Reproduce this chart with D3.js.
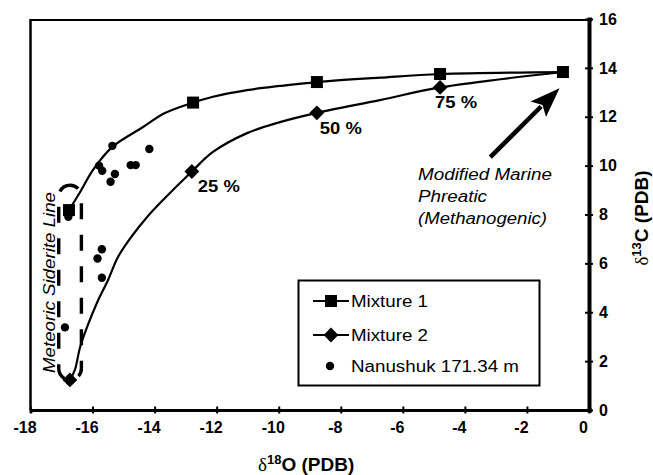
<!DOCTYPE html>
<html>
<head>
<meta charset="utf-8">
<script src="https://cdn.jsdelivr.net/npm/d3@7"></script>
<style>
  body { margin: 0; background: #fff; }
  text { font-family: Arial, "Liberation Sans", sans-serif; fill: #000; }
  .tick text { font-weight: bold; font-size: 16px; }
</style>
</head>
<body>
<div id="chart"></div>
<script>
// Axis ticks
const xTicks = [-18, -16, -14, -12, -10, -8, -6, -4, -2, 0];
const yTicks = [0, 2, 4, 6, 8, 10, 12, 14, 16];

// Mixture 1 (squares) and its mixing curve
const mix1X = [-16.76, -12.76, -8.77, -4.80, -0.84];
const mix1Y = [8.18, 12.58, 13.42, 13.75, 13.83];
const mix1CurveX = [-16.76, -16.40, -15.99, -15.37, -14.37, -13.67, -12.76, -12.12, -11.02, -9.96, -8.77, -6.74, -4.80, -0.84];
const mix1CurveY = [8.18, 8.92, 9.82, 10.76, 11.58, 12.15, 12.58, 12.82, 13.09, 13.26, 13.42, 13.60, 13.75, 13.83];

// Mixture 2 (diamonds) and its mixing curve
const mix2X = [-16.73, -12.80, -8.77, -4.80];
const mix2Y = [1.23, 9.76, 12.16, 13.20];
const mix2Labels = ["", "25 %", "50 %", "75 %"];
const mix2CurveX = [-16.73, -16.57, -16.40, -16.15, -15.86, -15.50, -15.18, -14.73, -14.24, -13.73, -12.80, -12.12, -11.02, -9.96, -8.77, -6.74, -4.80, -0.84];
const mix2CurveY = [1.23, 1.64, 2.58, 3.48, 4.38, 5.32, 6.26, 7.12, 7.90, 8.59, 9.76, 10.56, 11.33, 11.78, 12.16, 12.68, 13.20, 13.83];

// Nanushuk 171.34 m samples
const nanX = [-15.36, -14.17, -15.79, -15.69, -15.28, -15.42, -14.77, -14.61, -16.78, -15.70, -15.84, -15.70, -16.89];
const nanY = [10.81, 10.68, 10.00, 9.79, 9.66, 9.34, 10.02, 10.02, 7.91, 6.58, 6.20, 5.41, 3.38];

// Meteoric siderite line envelope and arrow
const siderX = [-17.09, -16.36];
const siderY = [1.23, 9.20];
const arrowX = [-3.18, -0.95];
const arrowY = [10.35, 13.17];

const width = 653;
const height = 475;

const svg = d3.select("#chart")
  .append("svg")
  .attr("width", width)
  .attr("height", height);

const x = d3.scaleLinear().domain([-18, 0]).range([30.5, 589]);
const y = d3.scaleLinear().domain([0, 16]).range([410, 19]);

// Frame (top and left)
svg.append("line").attr("x1", x(-18)).attr("x2", x(0)).attr("y1", 20).attr("y2", 20)
  .attr("stroke", "#000").attr("stroke-width", 2);
svg.append("line").attr("x1", x(-18)).attr("x2", x(-18)).attr("y1", 19).attr("y2", y(0))
  .attr("stroke", "#000").attr("stroke-width", 2.5);

// Bottom axis
const gx = svg.append("g")
  .attr("transform", `translate(0,${y(0)})`)
  .call(d3.axisBottom(x).tickValues(xTicks).tickSizeOuter(0).tickSize(3).tickFormat(d3.format("d")));
gx.attr("font-size", null).attr("font-family", null);
gx.select(".domain").attr("stroke-width", 3);
gx.selectAll(".tick line").attr("y1", -3.5).attr("y2", 3.5).attr("stroke-width", 2);
gx.selectAll(".tick text")
  .attr("y", 12).attr("dy", "0.71em").attr("dx", -6)
  .attr("font-weight", "bold")
  .text(d => String(d));

// Right axis
const gy = svg.append("g")
  .attr("transform", `translate(${x(0)},0)`)
  .call(d3.axisRight(y).tickValues(yTicks).tickSizeOuter(0).tickSize(3));
gy.attr("font-size", null).attr("font-family", null);
gy.select(".domain").attr("stroke-width", 4);
gy.selectAll(".tick line").attr("x1", -4).attr("x2", 4).attr("stroke-width", 2);
gy.selectAll(".tick text")
  .attr("x", 10)
  .attr("font-weight", "bold");

// Meteoric siderite dashed envelope
const envW = x(siderX[1]) - x(siderX[0]);
svg.append("rect")
  .attr("x", x(siderX[0]))
  .attr("y", y(siderY[1]))
  .attr("width", envW)
  .attr("height", y(siderY[0]) - y(siderY[1]))
  .attr("rx", envW / 2).attr("ry", envW / 2)
  .attr("fill", "none")
  .attr("stroke", "#000")
  .attr("stroke-width", 3.4)
  .attr("stroke-dasharray", "16,15.5")
  .attr("stroke-dashoffset", 7);

svg.append("text")
  .attr("transform", `translate(55,${(192 + 373) / 2}) rotate(-90)`)
  .attr("text-anchor", "middle")
  .attr("textLength", 181).attr("lengthAdjust", "spacingAndGlyphs")
  .style("font-size", "16px").style("font-style", "italic")
  .text("Meteoric Siderite Line");

// Mixing curves
const line = d3.line().x(d => x(d[0])).y(d => y(d[1])).curve(d3.curveCatmullRom.alpha(0.5));
svg.append("path")
  .datum(d3.zip(mix1CurveX, mix1CurveY))
  .attr("d", line).attr("fill", "none").attr("stroke", "#000").attr("stroke-width", 2.2);
svg.append("path")
  .datum(d3.zip(mix2CurveX, mix2CurveY))
  .attr("d", line).attr("fill", "none").attr("stroke", "#000").attr("stroke-width", 2.2);

// Nanushuk samples
svg.selectAll(".dot")
  .data(d3.zip(nanX, nanY))
  .enter().append("circle")
  .attr("class", "dot")
  .attr("cx", d => x(d[0])).attr("cy", d => y(d[1]))
  .attr("r", 4.2).attr("fill", "#000");

// Markers
const sq = 12;
svg.selectAll(".sq")
  .data(d3.zip(mix1X, mix1Y))
  .enter().append("rect")
  .attr("class", "sq")
  .attr("x", d => x(d[0]) - sq / 2).attr("y", d => y(d[1]) - sq / 2)
  .attr("width", sq).attr("height", sq).attr("fill", "#000");

const diamond = d3.symbol().type(d3.symbolSquare).size(110);
svg.selectAll(".dm")
  .data(d3.zip(mix2X, mix2Y))
  .enter().append("path")
  .attr("class", "dm")
  .attr("d", diamond)
  .attr("transform", d => `translate(${x(d[0])},${y(d[1])}) rotate(45)`)
  .attr("fill", "#000");

// Percent labels (horizontal nudges)
const pctDx = [0, 6, 3, -5];
svg.selectAll(".pct")
  .data(d3.zip(mix2X, mix2Y, mix2Labels, pctDx).filter(d => d[2]))
  .enter().append("text")
  .attr("class", "pct")
  .attr("x", d => x(d[0]) + d[3]).attr("y", d => y(d[1]) + 21)
  .attr("textLength", 42).attr("lengthAdjust", "spacingAndGlyphs")
  .style("font-size", "17px").style("font-weight", "bold")
  .text(d => d[2]);

// Arrow
const tail = [x(arrowX[0]), y(arrowY[0])];
const tip = [x(arrowX[1]), y(arrowY[1])];
const len = Math.hypot(tip[0] - tail[0], tip[1] - tail[1]);
const ux = (tip[0] - tail[0]) / len, uy = (tip[1] - tail[1]) / len;
const headLen = 30, headW = 11;
const back = [tip[0] - ux * headLen, tip[1] - uy * headLen];
svg.append("line")
  .attr("x1", tail[0]).attr("y1", tail[1])
  .attr("x2", back[0] + ux * 4).attr("y2", back[1] + uy * 4)
  .attr("stroke", "#000").attr("stroke-width", 4.5);
svg.append("path")
  .attr("d", `M${tip[0]},${tip[1]}L${back[0] - uy * headW},${back[1] + ux * headW}L${back[0] + ux * 6},${back[1] + uy * 6}L${back[0] + uy * headW},${back[1] - ux * headW}Z`)
  .attr("fill", "#000");

// Modified marine annotation
const noteLines = ["Modified Marine", "Phreatic", "(Methanogenic)"];
const noteLen = [134, 69, 129];
svg.selectAll(".note")
  .data(noteLines)
  .enter().append("text")
  .attr("class", "note")
  .attr("x", 418).attr("y", (d, i) => 180 + i * 22)
  .attr("textLength", (d, i) => noteLen[i]).attr("lengthAdjust", "spacingAndGlyphs")
  .style("font-size", "16px").style("font-style", "italic")
  .text(d => d);

// Legend
const legend = svg.append("g");
legend.append("rect")
  .attr("x", 298.5).attr("y", 280.5).attr("width", 241).attr("height", 105)
  .attr("fill", "#fff").attr("stroke", "#000").attr("stroke-width", 2);

const legendNames = ["Mixture 1", "Mixture 2", "Nanushuk 171.34 m"];
const legendLen = [77, 77, 168];
const legendY = [301, 335, 366];
legendNames.forEach((name, i) => {
  const ly = legendY[i];
  if (i < 2) {
    legend.append("line").attr("x1", 313).attr("x2", 349).attr("y1", ly).attr("y2", ly)
      .attr("stroke", "#000").attr("stroke-width", 2.2);
  }
  if (i === 0) {
    legend.append("rect").attr("x", 331 - sq / 2).attr("y", ly - sq / 2)
      .attr("width", sq).attr("height", sq).attr("fill", "#000");
  } else if (i === 1) {
    legend.append("path").attr("d", diamond)
      .attr("transform", `translate(331,${ly}) rotate(45)`).attr("fill", "#000");
  } else {
    legend.append("circle").attr("cx", 330).attr("cy", ly).attr("r", 4.2).attr("fill", "#000");
  }
  legend.append("text")
    .attr("x", 351).attr("y", ly + 6)
    .attr("textLength", legendLen[i]).attr("lengthAdjust", "spacingAndGlyphs")
    .style("font-size", "16px")
    .text(name);
});

// Axis titles
const xt = svg.append("text").attr("x", 258).attr("y", 471).style("font-size", "19px");
xt.append("tspan").style("font-family", "'Times New Roman', 'Liberation Serif', serif").text("δ");
xt.append("tspan").attr("dy", -7).style("font-size", "13px").style("font-weight", "bold").text("18");
xt.append("tspan").attr("dy", 7).style("font-weight", "bold").text("O (PDB)");

const yt = svg.append("text")
  .attr("transform", "translate(648,218) rotate(-90)")
  .attr("text-anchor", "middle")
  .style("font-size", "19px");
yt.append("tspan").style("font-family", "'Times New Roman', 'Liberation Serif', serif").text("δ");
yt.append("tspan").attr("dy", -7).style("font-size", "13px").style("font-weight", "bold").text("13");
yt.append("tspan").attr("dy", 7).style("font-weight", "bold").text("C (PDB)");
</script>
</body>
</html>
